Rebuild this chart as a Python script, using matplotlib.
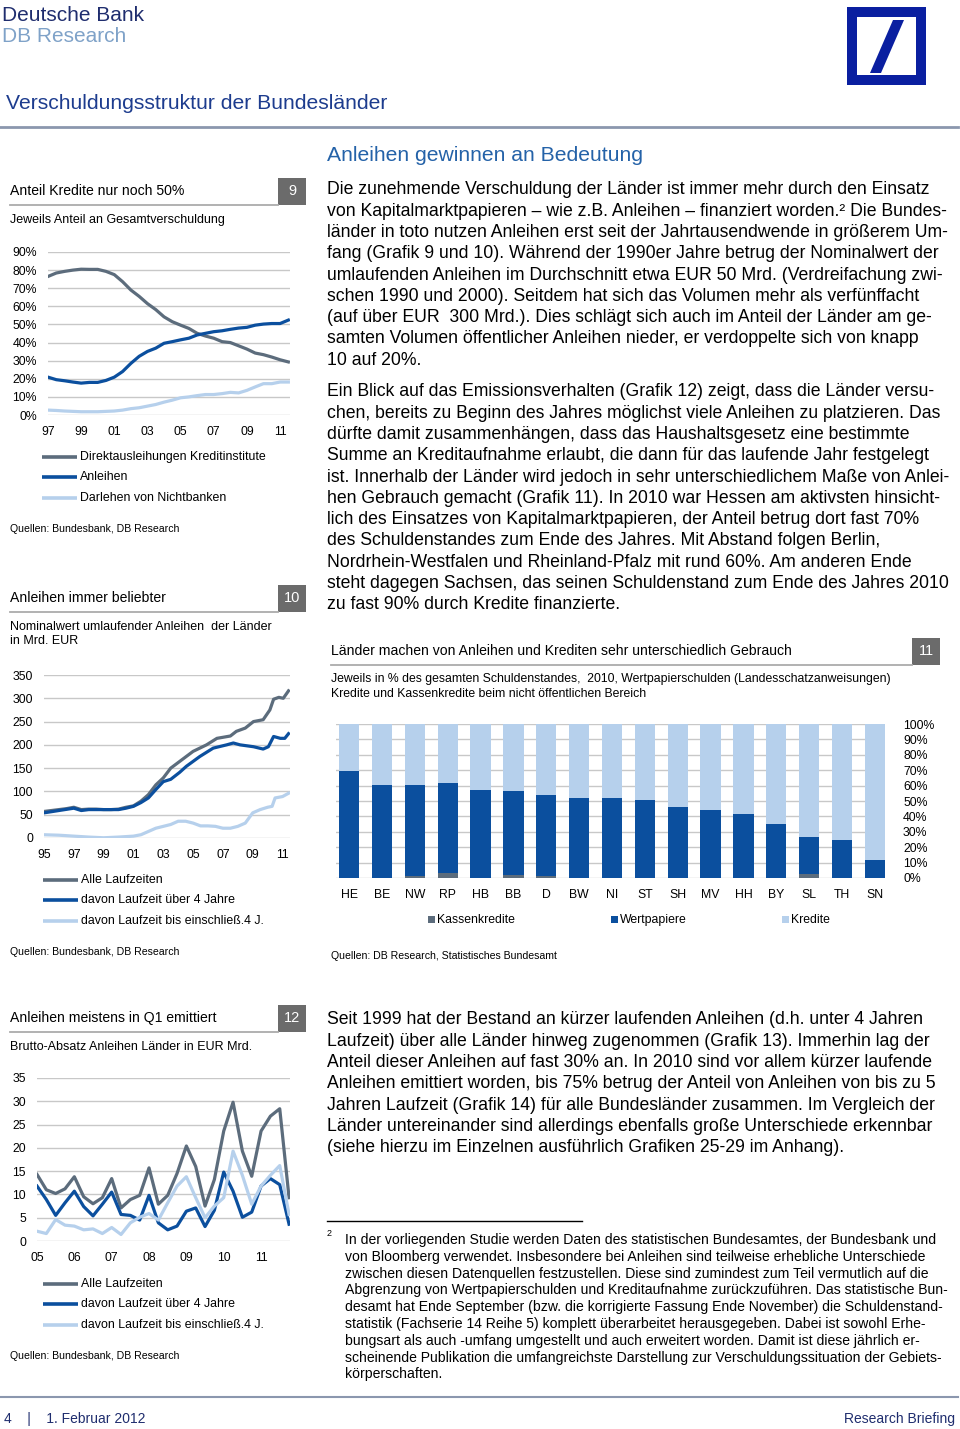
import numpy as np
import matplotlib
matplotlib.use('Agg')
import matplotlib.pyplot as plt
from matplotlib.patches import Rectangle, Polygon

plt.rcParams['font.family'] = ['Liberation Sans', 'DejaVu Sans']

# ---------- data ----------
# Grafik 9: share of total debt, half-year readings 1997.0 .. 2011.5
years9 = np.arange(1997.0, 2011.51, 0.5)
kredite9 = [76.5, 78.4, 79.3, 80, 80.5, 80.4, 80.4, 79.3, 77.5, 73.6, 69, 65.5, 61.5, 58.2, 54.2,
            51.5, 49.6, 47.8, 45.1, 43.6, 42.4, 40.5, 40, 38.2, 36.4, 34.2, 33.3, 32, 30.5, 29.3]
anleihen9 = [20.9, 19.5, 18.9, 18.2, 17.6, 18, 18, 19.1, 20.9, 24, 28.5, 32.4, 35.1, 36.9, 39.6,
             40.5, 41.5, 42.4, 44.2, 45.1, 46, 46.5, 47.3, 48, 48.4, 49.6, 50.2, 50.5, 50.5, 52.4]
nichtbank9 = [2.7, 2.5, 2.2, 2.0, 1.8, 1.8, 1.8, 2.0, 2.2, 2.7, 3.5, 4, 4.9, 5.8, 7.1,
              8.2, 9.5, 10, 10.7, 11.3, 11.3, 11.8, 12.5, 12.2, 13.6, 15.5, 17.3, 17.3, 18.2, 18.2]
legend9 = ['Direktausleihungen Kreditinstitute', 'Anleihen', 'Darlehen von Nichtbanken']

# Grafik 10: nominal value, Mrd. EUR
alle_x = [1995, 1995.5, 1996, 1996.5, 1997, 1997.5, 1998, 1998.5, 1999, 1999.5, 2000, 2000.5, 2001,
          2001.5, 2002, 2002.5, 2003, 2003.5, 2004.25, 2005.0, 2005.9, 2006.6, 2007.5, 2007.9,
          2008.5, 2009.05, 2009.7, 2010.15, 2010.4, 2010.75, 2011.05, 2011.4]
alle_y = [57, 59, 61, 63, 66, 61, 62, 62, 61, 61, 62, 66, 69, 79, 93, 114, 129, 150, 168, 186, 200,
          214, 219, 229, 236, 250, 254, 275, 298, 302, 300, 316]
lang_x = [1995, 1996, 1997, 1997.5, 1998, 1999, 2000, 2000.5, 2001, 2001.5, 2002, 2002.5, 2003,
          2003.5, 2004.1, 2004.55, 2005.45, 2006.35, 2007.25, 2007.7, 2008.15, 2009.05, 2009.7,
          2010.05, 2010.4, 2010.85, 2011.15, 2011.4]
lang_y = [54, 59, 64, 59, 61, 61, 61, 64, 68, 76, 86, 104, 121, 126, 141, 154, 175, 193, 200, 204,
          200, 196, 191, 196, 218, 214, 214, 224]
kurz_x = [1995, 1996, 1997, 1998, 1999, 2000, 2001, 2001.5, 2002, 2002.5, 2003, 2003.5, 2004,
          2004.5, 2005, 2005.5, 2006, 2006.5, 2007, 2007.5, 2008, 2008.5, 2009, 2009.5, 2010,
          2010.3, 2010.5, 2011, 2011.4]
kurz_y = [7, 6, 4, 2, 0.5, 2, 4, 7, 14, 21, 25, 29, 36, 36, 32, 26, 26, 25, 21, 21, 25, 32, 54, 61,
          66, 68, 86, 89, 96]
legend10 = ['Alle Laufzeiten', 'davon Laufzeit über 4 Jahre', 'davon Laufzeit bis einschließ.4 J.']

# Grafik 11: structure of debt 2010, % of total
laender = ['HE', 'BE', 'NW', 'RP', 'HB', 'BB', 'D', 'BW', 'NI', 'ST', 'SH', 'MV', 'HH', 'BY', 'SL', 'TH', 'SN']
kassenkredite = [0, 0, 1.5, 3.5, 0, 2, 1, 0, 0, 0, 0, 0, 0, 0, 2.5, 0, 0]
wertpapiere = [69.5, 60.5, 59, 58, 57, 54.5, 53, 51.7, 51.7, 50.6, 46.3, 44.4, 41.6, 35.1, 24.4, 24.4, 11.9]
legend11 = ['Kassenkredite', 'Wertpapiere', 'Kredite']

# Grafik 12: gross issuance per quarter 2005Q1 .. 2011Q4, Mrd. EUR
alle12 = [14.3, 11, 10.2, 11.2, 13.8, 9.5, 8, 9.3, 13.4, 7.1, 8.9, 9.8, 15.7, 7.9, 9.8, 14.5,
          20.4, 16, 7.5, 13.2, 23.6, 29.8, 19.3, 13.9, 23.6, 26.8, 28.4, 9.3]
lang12 = [11.8, 8.9, 5.5, 8.2, 10.7, 7.4, 5.4, 7.9, 10.5, 5.7, 5.5, 4.5, 9.8, 3.9, 2.4, 3.2,
          6.4, 7.1, 3.1, 6.6, 14.8, 10.7, 5.1, 6.2, 11.8, 13.4, 12.1, 3.6]
kurz12 = [2.1, 1.6, 4.6, 3.4, 3.2, 2.4, 2.6, 1.6, 2.9, 1.4, 3.9, 5.1, 5.9, 4.5, 8.2, 11.8,
          13.8, 9.3, 5, 7.5, 9.3, 19.3, 14.1, 7.9, 11.8, 14.1, 16.2, 5.7]
jahre12 = ['05', '06', '07', '08', '09', '10', '11']

# ---------- page ----------
W, H = 960, 1429
GREY = '#5c6c7c'
DBLUE = '#0b4f9e'
LBLUE = '#b6d0ec'
NAVY = '#1f2d6e'
GRID = '#c8c8c8'

fig = plt.figure(figsize=(9.6, 14.29), dpi=100)
page = fig.add_axes([0, 0, 1, 1])
page.set_xlim(0, W)
page.set_ylim(H, 0)
page.axis('off')


def ax_px(l, t, r, b):
    return fig.add_axes([l / W, 1 - b / H, (r - l) / W, (b - t) / H])


def style(ax, pad_y=8, pad_x=8):
    for s in ax.spines.values():
        s.set_visible(False)
    ax.tick_params(length=0, labelsize=8.8)
    ax.tick_params(axis='y', pad=pad_y)
    ax.tick_params(axis='x', pad=pad_x)
    ax.grid(axis='y', color=GRID, lw=1)
    ax.set_axisbelow(True)
    ax.patch.set_alpha(0)


def header(x0, x1, y, title, num):
    page.text(x0, y, title, fontsize=10.1, va='center')
    page.add_patch(Rectangle((x1, y - 13.5), 28, 27, color='#6b6b6b', lw=0))
    page.text(x1 + 14, y, num, fontsize=10.5, color='white', ha='center', va='center')
    page.plot([x0, x1], [y + 13.5, y + 13.5], color='#ababab', lw=1.3)


def line_legend(x, ys, labels, colors):
    for yy, lab, c in zip(ys, labels, colors):
        page.plot([x, x + 35], [yy, yy], color=c, lw=2.6, solid_capstyle='butt')
        page.text(x + 38, yy, lab, fontsize=8.9, va='center')


def block(x0, y0, lines, size, step):
    off = size * 1.389 * 0.36
    for i, s in enumerate(lines):
        page.text(x0, y0 + step * i + off, s, fontsize=size, va='baseline')


# masthead
page.text(2, 15, 'Deutsche Bank', fontsize=15, color=NAVY, va='center')
page.text(2, 36, 'DB Research', fontsize=15, color='#7fa2c8', va='center')
page.add_patch(Rectangle((847, 7), 79, 78, color='#0a1fa0', lw=0))
page.add_patch(Rectangle((857, 17), 59, 58, color='white', lw=0))
page.add_patch(Polygon([(870, 73), (881, 73), (904, 20), (893, 20)], closed=True, color='#0a1fa0', lw=0))
page.text(6, 103, 'Verschuldungsstruktur der Bundesländer', fontsize=15.2, color='#1d3c8e', va='center')
page.plot([0, 958], [127, 127], color='#8b97ae', lw=2)

# ---------- Grafik 9 ----------
header(10, 278, 191, 'Anteil Kredite nur noch 50%', '9')
page.text(10, 220, 'Jeweils Anteil an Gesamtverschuldung', fontsize=9, va='center')
ax9 = ax_px(48, 252, 290, 415)
ax9.plot(years9, kredite9, color=GREY, lw=2.3)
ax9.plot(years9, anleihen9, color=DBLUE, lw=2.3)
ax9.plot(years9, nichtbank9, color=LBLUE, lw=2.3)
ax9.set_xlim(1997, 2011.6)
ax9.set_ylim(0, 90)
ax9.set_yticks(range(0, 91, 10))
ax9.set_yticklabels([f'{v}%' for v in range(0, 91, 10)])
ax9.set_xticks(range(1997, 2012, 2))
ax9.set_xticklabels([f'{y % 100:02d}' for y in range(1997, 2012, 2)])
style(ax9)
line_legend(42, [457, 477, 498], legend9, [GREY, DBLUE, LBLUE])
page.text(10, 529, 'Quellen: Bundesbank, DB Research', fontsize=7.6, va='center')

# ---------- Grafik 10 ----------
header(10, 278, 598, 'Anleihen immer beliebter', '10')
page.text(10, 627, 'Nominalwert umlaufender Anleihen  der Länder', fontsize=9, va='center')
page.text(10, 641, 'in Mrd. EUR', fontsize=9, va='center')
ax10 = ax_px(44, 675, 290, 838)
ax10.plot(alle_x, alle_y, color=GREY, lw=2.3)
ax10.plot(lang_x, lang_y, color=DBLUE, lw=2.3)
ax10.plot(kurz_x, kurz_y, color=LBLUE, lw=2.3)
ax10.set_xlim(1995, 2011.5)
ax10.set_ylim(0, 350)
ax10.set_yticks(range(0, 351, 50))
ax10.set_xticks(range(1995, 2012, 2))
ax10.set_xticklabels([f'{y % 100:02d}' for y in range(1995, 2012, 2)])
style(ax10)
line_legend(43, [880, 900, 921], legend10, [GREY, DBLUE, LBLUE])
page.text(10, 952, 'Quellen: Bundesbank, DB Research', fontsize=7.6, va='center')

# ---------- Grafik 11 ----------
header(331, 912, 651, 'Länder machen von Anleihen und Krediten sehr unterschiedlich Gebrauch', '11')
page.text(331, 679, 'Jeweils in % des gesamten Schuldenstandes,  2010, Wertpapierschulden (Landesschatzanweisungen)',
          fontsize=8.85, va='center')
page.text(331, 694, 'Kredite und Kassenkredite beim nicht öffentlichen Bereich', fontsize=8.85, va='center')
ax11 = ax_px(336, 724, 885, 878)
xb = np.arange(len(laender))
kas = np.array(kassenkredite)
wp = np.array(wertpapiere)
kr = 100 - kas - wp
ax11.bar(xb, kas, width=0.62, color=GREY)
ax11.bar(xb, wp, width=0.62, bottom=kas, color=DBLUE)
ax11.bar(xb, kr, width=0.62, bottom=kas + wp, color=LBLUE)
ax11.set_xlim(-0.4, 16.31)
ax11.set_ylim(0, 100)
ax11.set_yticks(range(0, 101, 10))
ax11.set_yticklabels([f'{v}%' for v in range(0, 101, 10)])
ax11.yaxis.tick_right()
for lab in ax11.get_yticklabels():
    lab.set_horizontalalignment('left')
ax11.set_xticks(xb)
ax11.set_xticklabels(laender)
style(ax11, pad_y=13, pad_x=8)
for mx, lab, c in zip([432, 615, 786], legend11, [GREY, DBLUE, LBLUE]):
    page.add_patch(Rectangle((mx - 4, 916), 7, 7, color=c, lw=0))
    page.text(mx + 5, 920, lab, fontsize=8.8, va='center')
page.text(331, 956, 'Quellen: DB Research, Statistisches Bundesamt', fontsize=7.6, va='center')

# ---------- Grafik 12 ----------
header(10, 278, 1018, 'Anleihen meistens in Q1 emittiert', '12')
page.text(10, 1047, 'Brutto-Absatz Anleihen Länder in EUR Mrd.', fontsize=9, va='center')
ax12 = ax_px(37, 1078, 290, 1241)
q = np.arange(len(alle12))
ax12.plot(q, alle12, color=GREY, lw=2.3)
ax12.plot(q, lang12, color=DBLUE, lw=2.3)
ax12.plot(q, kurz12, color=LBLUE, lw=2.3)
ax12.set_xlim(0, 27.1)
ax12.set_ylim(0, 35)
ax12.set_yticks(range(0, 36, 5))
ax12.set_xticks(range(0, 28, 4))
ax12.set_xticklabels(jahre12)
style(ax12)
line_legend(43, [1284, 1304, 1325], legend10, [GREY, DBLUE, LBLUE])
page.text(10, 1356, 'Quellen: Bundesbank, DB Research', fontsize=7.6, va='center')

# ---------- body text ----------
page.text(327, 155, 'Anleihen gewinnen an Bedeutung', fontsize=15.2, color='#2462a8', va='center')

para1 = [
    'Die zunehmende Verschuldung der Länder ist immer mehr durch den Einsatz',
    'von Kapitalmarktpapieren – wie z.B. Anleihen – finanziert worden.² Die Bundes-',
    'länder in toto nutzen Anleihen erst seit der Jahrtausendwende in größerem Um-',
    'fang (Grafik 9 und 10). Während der 1990er Jahre betrug der Nominalwert der',
    'umlaufenden Anleihen im Durchschnitt etwa EUR 50 Mrd. (Verdreifachung zwi-',
    'schen 1990 und 2000). Seitdem hat sich das Volumen mehr als verfünffacht',
    '(auf über EUR  300 Mrd.). Dies schlägt sich auch im Anteil der Länder am ge-',
    'samten Volumen öffentlicher Anleihen nieder, er verdoppelte sich von knapp',
    '10 auf 20%.',
]
para2 = [
    'Ein Blick auf das Emissionsverhalten (Grafik 12) zeigt, dass die Länder versu-',
    'chen, bereits zu Beginn des Jahres möglichst viele Anleihen zu platzieren. Das',
    'dürfte damit zusammenhängen, dass das Haushaltsgesetz eine bestimmte',
    'Summe an Kreditaufnahme erlaubt, die dann für das laufende Jahr festgelegt',
    'ist. Innerhalb der Länder wird jedoch in sehr unterschiedlichem Maße von Anlei-',
    'hen Gebrauch gemacht (Grafik 11). In 2010 war Hessen am aktivsten hinsicht-',
    'lich des Einsatzes von Kapitalmarktpapieren, der Anteil betrug dort fast 70%',
    'des Schuldenstandes zum Ende des Jahres. Mit Abstand folgen Berlin,',
    'Nordrhein-Westfalen und Rheinland-Pfalz mit rund 60%. Am anderen Ende',
    'steht dagegen Sachsen, das seinen Schuldenstand zum Ende des Jahres 2010',
    'zu fast 90% durch Kredite finanzierte.',
]
para3 = [
    'Seit 1999 hat der Bestand an kürzer laufenden Anleihen (d.h. unter 4 Jahren',
    'Laufzeit) über alle Länder hinweg zugenommen (Grafik 13). Immerhin lag der',
    'Anteil dieser Anleihen auf fast 30% an. In 2010 sind vor allem kürzer laufende',
    'Anleihen emittiert worden, bis 75% betrug der Anteil von Anleihen von bis zu 5',
    'Jahren Laufzeit (Grafik 14) für alle Bundesländer zusammen. Im Vergleich der',
    'Länder untereinander sind allerdings ebenfalls große Unterschiede erkennbar',
    '(siehe hierzu im Einzelnen ausführlich Grafiken 25-29 im Anhang).',
]
footnote = [
    'In der vorliegenden Studie werden Daten des statistischen Bundesamtes, der Bundesbank und',
    'von Bloomberg verwendet. Insbesondere bei Anleihen sind teilweise erhebliche Unterschiede',
    'zwischen diesen Datenquellen festzustellen. Diese sind zumindest zum Teil vermutlich auf die',
    'Abgrenzung von Wertpapierschulden und Kreditaufnahme zurückzuführen. Das statistische Bun-',
    'desamt hat Ende September (bzw. die korrigierte Fassung Ende November) die Schuldenstand-',
    'statistik (Fachserie 14 Reihe 5) komplett überarbeitet herausgegeben. Dabei ist sowohl Erhe-',
    'bungsart als auch -umfang umgestellt und auch erweitert worden. Damit ist diese jährlich er-',
    'scheinende Publikation die umfangreichste Darstellung zur Verschuldungssituation der Gebiets-',
    'körperschaften.',
]

BODY = 12.7
block(327, 188, para1, BODY, 21.3)
block(327, 390, para2, BODY, 21.3)
block(327, 1018, para3, BODY, 21.3)

page.plot([327, 582], [1221, 1221], color='black', lw=1)
page.text(327, 1234, '2', fontsize=6.5, va='center')
block(345, 1239, footnote, 10.1, 16.8)

# footer
page.plot([0, 958], [1397, 1397], color='#8b97ae', lw=1.5)
page.text(4, 1419, '4    |    1. Februar 2012', fontsize=10, color=NAVY, va='center')
page.text(955, 1419, 'Research Briefing', fontsize=10, color=NAVY, va='center', ha='right')

fig.savefig('out.png', dpi=100)
